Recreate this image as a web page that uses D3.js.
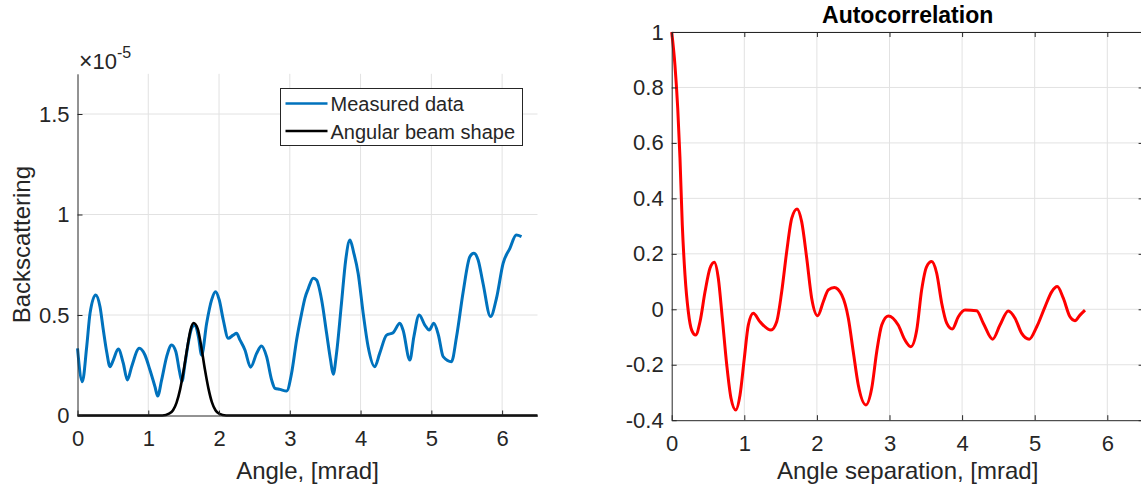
<!DOCTYPE html>
<html>
<head>
<meta charset="utf-8">
<script src="https://cdn.jsdelivr.net/npm/d3@7"></script>
<style>
  body { margin: 0; background: #fff; }
  svg text { font-family: "Liberation Sans", Arial, sans-serif; fill: #262626; }
  .grid line { stroke: #e2e2e2; stroke-width: 1; }
  .axis path, .axis line { stroke: #262626; stroke-width: 1; }
  .axis text { font-size: 22px; fill: #262626; }
</style>
</head>
<body>
<script>
// measured backscattering, values in units of 1e-5, angle in mrad
var measuredAngle = [0, 0.068, 0.13, 0.177, 0.257, 0.318, 0.365, 0.412, 0.459, 0.506, 0.576, 0.647, 0.704, 0.765, 0.873, 0.953,
  1.024, 1.095, 1.133, 1.189, 1.26, 1.33, 1.39, 1.438, 1.476, 1.52, 1.57, 1.62, 1.66, 1.71, 1.754, 1.825, 1.895, 1.95,
  2.003, 2.06, 2.13, 2.2, 2.248, 2.295, 2.366, 2.446, 2.531, 2.6, 2.672, 2.743, 2.79, 2.86, 2.955,
  3.025, 3.096, 3.167, 3.213, 3.26, 3.33, 3.378, 3.45, 3.52, 3.576, 3.613, 3.66, 3.73, 3.79, 3.85, 3.905, 3.966,
  4.037, 4.107, 4.2, 4.27, 4.367, 4.46, 4.555, 4.6, 4.696, 4.753, 4.828, 4.908, 4.97,
  5.035, 5.1, 5.167, 5.285, 5.356, 5.45, 5.544, 5.6, 5.661, 5.73, 5.836, 5.92,
  6.014, 6.11, 6.2, 6.274];
var measuredValue = [0.334, 0.168, 0.342, 0.508, 0.6, 0.541, 0.425, 0.317, 0.243, 0.276, 0.331, 0.26, 0.177, 0.243, 0.334, 0.301,
  0.226, 0.143, 0.097, 0.177, 0.293, 0.351, 0.317, 0.226, 0.17, 0.26, 0.37, 0.44, 0.45, 0.39, 0.3, 0.459, 0.575, 0.616,
  0.575, 0.475, 0.384, 0.4, 0.409, 0.376, 0.326, 0.24, 0.309, 0.346, 0.293, 0.177, 0.135, 0.13, 0.122,
  0.21, 0.376, 0.508, 0.583, 0.63, 0.683, 0.674, 0.575, 0.409, 0.276, 0.205, 0.309, 0.558, 0.774, 0.873, 0.807, 0.707,
  0.508, 0.342, 0.243, 0.309, 0.4, 0.412, 0.459, 0.425, 0.276, 0.392, 0.5, 0.45, 0.425,
  0.459, 0.4, 0.293, 0.268, 0.392, 0.616, 0.79, 0.807, 0.774, 0.658, 0.492, 0.583,
  0.757, 0.832, 0.898, 0.89];

// angular beam shape (same units)
var beamAngle = [0, 1.2, 1.3, 1.35, 1.4, 1.45, 1.5, 1.55, 1.6, 1.64, 1.7, 1.75, 1.8, 1.85, 1.9, 1.95, 2.0, 2.1, 6.5];
var beamValue = [0, 0, 0.01, 0.026, 0.064, 0.13, 0.225, 0.335, 0.43, 0.46, 0.43, 0.34, 0.23, 0.135, 0.065, 0.026, 0.009, 0, 0];

// autocorrelation
var acLag = [0, 0.045, 0.083, 0.114, 0.146, 0.183, 0.229, 0.275, 0.33, 0.39, 0.459, 0.527, 0.587, 0.642, 0.697, 0.758, 0.817, 0.882, 0.941,
  1.0, 1.055, 1.124, 1.216, 1.368, 1.446, 1.515, 1.584, 1.653, 1.726, 1.79, 1.86, 1.928,
  2.011, 2.088, 2.157, 2.24, 2.342, 2.433, 2.501, 2.57, 2.676, 2.755, 2.824, 2.893, 2.983,
  3.12, 3.213, 3.294, 3.375, 3.443, 3.512, 3.581, 3.65, 3.719, 3.788, 3.865, 3.948,
  4.04, 4.2, 4.292, 4.421, 4.522, 4.636, 4.729, 4.821, 4.925,
  5.028, 5.142, 5.234, 5.311, 5.394, 5.486, 5.555, 5.624, 5.693];
var acValue = [1.0, 0.88, 0.725, 0.545, 0.304, 0.124, -0.009, -0.075, -0.093, -0.045, 0.063, 0.148, 0.17, 0.112, -0.032, -0.2, -0.321, -0.363, -0.309,
  -0.177, -0.057, -0.014, -0.045, -0.075, -0.045, 0.063, 0.208, 0.328, 0.362, 0.316, 0.184, 0.04,
  -0.023, 0.027, 0.07, 0.079, 0.052, -0.032, -0.153, -0.273, -0.345, -0.285, -0.153, -0.057, -0.024,
  -0.057, -0.111, -0.135, -0.075, 0.07, 0.154, 0.172, 0.13, 0.022, -0.05, -0.071, -0.027,
  -0.003, -0.005, -0.05, -0.108, -0.057, -0.006, -0.032, -0.087, -0.108,
  -0.063, 0.009, 0.063, 0.082, 0.04, -0.027, -0.041, -0.021, -0.003];

var xTicks = [0, 1, 2, 3, 4, 5, 6];
var leftYTicks = [0, 0.5, 1, 1.5];
var rightYTicks = [-0.4, -0.2, 0, 0.2, 0.4, 0.6, 0.8, 1];
var legendLabels = ["Measured data", "Angular beam shape"];

var W = 1141, H = 488;
var svg = d3.select("body").append("svg")
  .attr("width", W)
  .attr("height", H);

function zip(xs, ys) {
  return xs.map(function(x, i){ return [x, ys[i]]; });
}

function drawGrid(g, x, y, xt, yt) {
  var grid = g.append("g").attr("class", "grid");
  grid.selectAll(".gx").data(xt.filter(function(d){ return d !== x.domain()[0]; }))
    .enter().append("line")
    .attr("x1", function(d){ return x(d); }).attr("x2", function(d){ return x(d); })
    .attr("y1", y.range()[0]).attr("y2", y.range()[1]);
  grid.selectAll(".gy").data(yt.filter(function(d){ return d !== y.domain()[0]; }))
    .enter().append("line")
    .attr("x1", x.range()[0]).attr("x2", x.range()[1])
    .attr("y1", function(d){ return y(d); }).attr("y2", function(d){ return y(d); });
}

// ---------- left panel ----------
var xL = d3.scaleLinear().domain([0, 6.5]).range([77.5, 537.5]);
var yL = d3.scaleLinear().domain([0, 1.7]).range([415.5, 73.8]);
var left = svg.append("g");

drawGrid(left, xL, yL, xTicks, leftYTicks);

left.append("path")
  .datum(zip(measuredAngle, measuredValue))
  .attr("fill", "none")
  .attr("stroke", "#0072BD")
  .attr("stroke-width", 3)
  .attr("stroke-linejoin", "round")
  .attr("d", d3.line().curve(d3.curveMonotoneX)
    .x(function(d){ return xL(d[0]); }).y(function(d){ return yL(d[1]); }));

left.append("path")
  .datum(zip(beamAngle, beamValue))
  .attr("fill", "none")
  .attr("stroke", "#000")
  .attr("stroke-width", 2.6)
  .attr("d", d3.line().curve(d3.curveMonotoneX)
    .x(function(d){ return xL(d[0]); }).y(function(d){ return yL(d[1]); }));

left.append("g").attr("class", "axis")
  .attr("transform", "translate(0," + yL(0) + ")")
  .call(d3.axisBottom(xL).tickValues(xTicks).tickSize(-5).tickSizeOuter(0).tickPadding(15).tickFormat(d3.format("d")));
left.append("g").attr("class", "axis")
  .attr("transform", "translate(" + xL(0) + ",0)")
  .call(d3.axisLeft(yL).tickValues(leftYTicks).tickSize(-5).tickSizeOuter(0).tickPadding(8).tickFormat(function(d){ return String(d); }));

// exponent label
var expo = left.append("text").attr("x", 79).attr("y", 69);
expo.append("tspan").style("font-size", "23px").text("\u00d7");
expo.append("tspan").style("font-size", "22px").text("10");
expo.append("tspan").attr("dy", -11).style("font-size", "16px").text("-5");

left.append("text")
  .attr("transform", "translate(30," + (yL(0.85)) + ") rotate(-90)")
  .attr("text-anchor", "middle")
  .style("font-size", "24px")
  .text("Backscattering");

left.append("text")
  .attr("x", (xL(0) + xL(6.5)) / 2)
  .attr("y", 479)
  .attr("text-anchor", "middle")
  .style("font-size", "24px")
  .text("Angle, [mrad]");

// legend
var leg = left.append("g").attr("transform", "translate(280.5,88.5)");
leg.append("rect").attr("width", 242).attr("height", 57)
  .attr("fill", "#fff").attr("stroke", "#262626").attr("stroke-width", 1);
var legColors = ["#0072BD", "#000"];
legendLabels.forEach(function(lab, i){
  var yy = 15 + i * 27.5;
  leg.append("line").attr("x1", 5).attr("x2", 47).attr("y1", yy).attr("y2", yy)
    .attr("stroke", legColors[i]).attr("stroke-width", 2.6);
  leg.append("text").attr("x", 50).attr("y", yy + 7.5).style("font-size", "20px").text(lab);
});

// ---------- right panel ----------
var xR = d3.scaleLinear().domain([0, 6.5]).range([671.7, 1143.6]);
var yR = d3.scaleLinear().domain([-0.4, 1]).range([420.2, 32]);
var right = svg.append("g");

drawGrid(right, xR, yR, xTicks, rightYTicks);

right.append("path")
  .datum(zip(acLag, acValue))
  .attr("fill", "none")
  .attr("stroke", "#FF0000")
  .attr("stroke-width", 3)
  .attr("d", d3.line().curve(d3.curveMonotoneX)
    .x(function(d){ return xR(d[0]); }).y(function(d){ return yR(d[1]); }));

right.append("g").attr("class", "axis")
  .attr("transform", "translate(0," + yR(-0.4) + ")")
  .call(d3.axisBottom(xR).tickValues(xTicks).tickSize(-5).tickSizeOuter(0).tickPadding(15).tickFormat(d3.format("d")));
right.append("g").attr("class", "axis")
  .attr("transform", "translate(" + xR(0) + ",0)")
  .call(d3.axisLeft(yR).tickValues(rightYTicks).tickSize(-5).tickSizeOuter(0).tickPadding(8)
    .tickFormat(function(d){ return String(+d.toFixed(1)); }));
right.append("g").attr("class", "axis")
  .attr("transform", "translate(0," + yR(1) + ")")
  .call(d3.axisTop(xR).tickValues(xTicks).tickSize(-5).tickSizeOuter(0).tickFormat(""));
right.append("g").attr("class", "axis")
  .attr("transform", "translate(" + xR(6.5) + ",0)")
  .call(d3.axisRight(yR).tickValues(rightYTicks).tickSize(-5).tickSizeOuter(0).tickFormat(""));

right.append("text")
  .attr("x", (xR(0) + xR(6.5)) / 2)
  .attr("y", 23)
  .attr("text-anchor", "middle")
  .style("font-size", "23px")
  .style("font-weight", "bold")
  .style("fill", "#000")
  .text("Autocorrelation");

right.append("text")
  .attr("x", (xR(0) + xR(6.5)) / 2)
  .attr("y", 479)
  .attr("text-anchor", "middle")
  .style("font-size", "24px")
  .text("Angle separation, [mrad]");
</script>
</body>
</html>
